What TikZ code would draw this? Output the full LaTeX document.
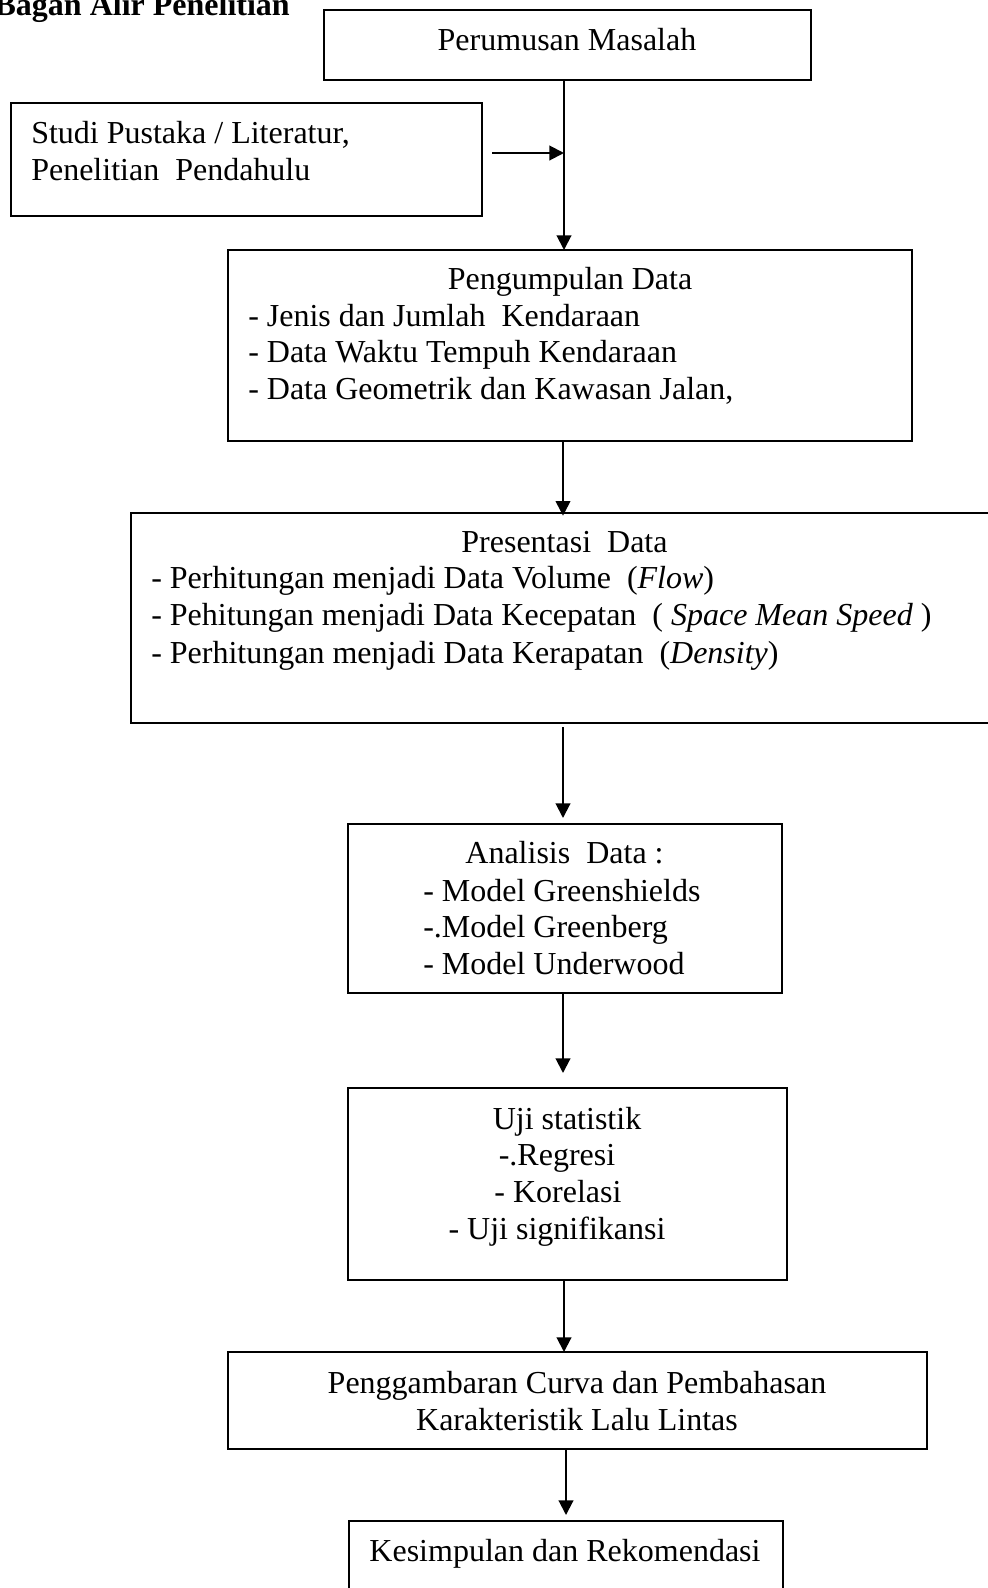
\documentclass[tikz,border=0pt]{standalone}
\usepackage{fontspec}
\setmainfont{Liberation Serif}
\usetikzlibrary{arrows.meta,calc}
\begin{document}
\begin{tikzpicture}[x=0.75pt,y=-0.75pt,
  box/.style={draw,line width=1.5pt,inner sep=0pt,outer sep=0pt,rectangle},
  txt/.style={inner sep=0pt,font=\fontsize{24}{27.4}\selectfont},
  ttl/.style={inner sep=0pt,font=\fontsize{24}{27.4}\selectfont\bfseries},
  arr/.style={line width=1.5pt,-{Triangle[length=11pt,width=11pt]}}]
\useasboundingbox (0,0) rectangle (988,1588);
\clip (0,0) rectangle (988,1588);

% title
\node[ttl,anchor=base east] (title) at (290,16) {Bagan Alir Penelitian};

% boxes
\node[box,minimum width=365.25pt,minimum height=52.5pt] (b1) at (567.5,45) {};
\node[box,minimum width=353.25pt,minimum height=84.75pt] (studi) at (246.5,159.5) {};
\node[box,minimum width=513pt,minimum height=143.25pt] (b2) at (570,345.5) {};
\node[box,minimum width=659.25pt,minimum height=157.5pt] (b3) at (570.5,618) {};
\node[box,minimum width=325.5pt,minimum height=126.75pt] (b4) at (565,908.5) {};
\node[box,minimum width=329.25pt,minimum height=144pt] (b5) at (567.5,1184) {};
\node[box,minimum width=524.25pt,minimum height=72.75pt] (b6) at (577.5,1400.5) {};
\node[box,minimum width=325.5pt,minimum height=66.75pt] (b7) at (566,1565.5) {};

% texts
\node[txt,anchor=base] (t1) at (567,50) {Perumusan Masalah};

\node[txt,anchor=base west] (s1) at (31,143) {Studi Pustaka / Literatur,};
\node[txt,anchor=base west] (s2) at (31,180) {Penelitian~ Pendahulu};

\node[txt,anchor=base] (p0) at (570,289) {Pengumpulan Data};
\node[txt,anchor=base west] (p1) at (248,326) {- Jenis dan Jumlah~ Kendaraan};
\node[txt,anchor=base west] (p2) at (248,362) {- Data Waktu Tempuh Kendaraan};
\node[txt,anchor=base west] (p3) at (248,399) {- Data Geometrik dan Kawasan Jalan,};

\node[txt,anchor=base] (q0) at (564.5,552) {Presentasi~ Data};
\node[txt,anchor=base west] (q1) at (151,588) {- Perhitungan menjadi Data Volume~ (\textit{Flow})};
\node[txt,anchor=base west] (q2) at (151,625) {- Pehitungan menjadi Data Kecepatan~ ( \textit{Space Mean Speed} )};
\node[txt,anchor=base west] (q3) at (151,663) {- Perhitungan menjadi Data Kerapatan~ (\textit{Density})};

\node[txt,anchor=base] (r0) at (564.5,863) {Analisis~ Data :};
\node[txt,anchor=base west] (r1) at (423,901) {- Model Greenshields};
\node[txt,anchor=base west] (r2) at (423,937) {-.Model Greenberg};
\node[txt,anchor=base west] (r3) at (423,974) {- Model Underwood};

\node[txt,anchor=base] (u0) at (567,1129) {Uji statistik};
\node[txt,anchor=base] (u1) at (557,1165) {-.Regresi};
\node[txt,anchor=base] (u2) at (558,1202) {- Korelasi};
\node[txt,anchor=base] (u3) at (557,1239) {- Uji signifikansi};

\node[txt,anchor=base] (g1) at (577,1393) {Penggambaran Curva dan Pembahasan};
\node[txt,anchor=base] (g2) at (577,1430) {Karakteristik Lalu Lintas};

\node[txt,anchor=base] (k1) at (565,1561) {Kesimpulan dan Rekomendasi};

% connector x positions
\coordinate (x564) at (564,0);
\coordinate (x563) at (563,0);
\coordinate (x566) at (566,0);
\coordinate (sA) at (492,153);
\coordinate (sB) at (564,153);

\path (b3.south -| x563) ++(0,4) coordinate (a3s);
\path (b4.north -| x563) ++(0,-6) coordinate (a3e);
\path (b5.north -| x563) ++(0,-15) coordinate (a4e);
\path (b7.north -| x566) ++(0,-6) coordinate (a6e);

% connectors
\draw[arr] (b1.south -| x564) -- (b2.north -| x564);
\draw[arr] (sA) -- (sB);
\draw[arr] (b2.south -| x563) -- ([yshift=-2pt]b3.north -| x563);
\draw[arr] (a3s) -- (a3e);
\draw[arr] (b4.south -| x563) -- (a4e);
\draw[arr] (b5.south -| x564) -- (b6.north -| x564);
\draw[arr] (b6.south -| x566) -- (a6e);
\end{tikzpicture}
\end{document}
